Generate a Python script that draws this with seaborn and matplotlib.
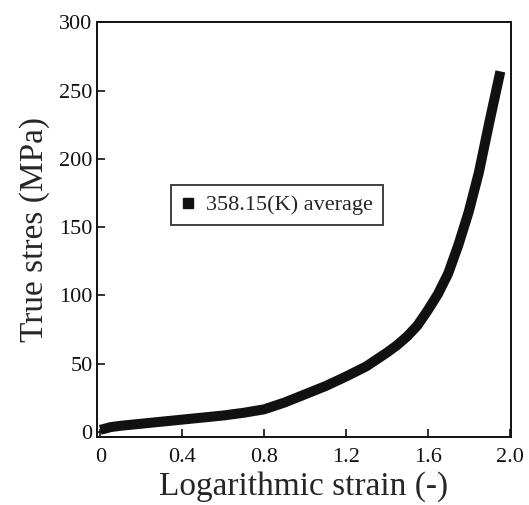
import pandas as pd
import numpy as np
import matplotlib
matplotlib.use("Agg")
import matplotlib.pyplot as plt
from matplotlib.lines import Line2D
import seaborn as sns

# %%
# values
strain = [0.0, 0.05, 0.1, 0.2, 0.3, 0.4, 0.5, 0.6, 0.7, 0.8, 0.9, 1.0, 1.1,
          1.2, 1.3, 1.4, 1.45, 1.5, 1.55, 1.6, 1.65, 1.7, 1.75, 1.8, 1.85, 1.9, 1.955]
stress = [1.5, 3.5, 4.5, 6.0, 7.5, 9.0, 10.5, 12.0, 14.0, 16.5, 21.5, 27.5, 33.5,
          40.5, 48.0, 58.0, 63.5, 70.0, 78.0, 89.0, 101.0, 116.0, 137.0, 161.0, 190.0, 226.0, 264.0]
series_label = "358.15(K) average"
x_ticks = [0, 0.4, 0.8, 1.2, 1.6, 2.0]
x_tick_labels = ["0", "0.4", "0.8", "1.2", "1.6", "2.0"]
y_ticks = [0, 50, 100, 150, 200, 250, 300]

df = pd.DataFrame({"strain": strain, "stress": stress})

# %%
sns.set_style("ticks")
plt.rcParams["font.family"] = ["Liberation Serif", "DejaVu Serif"]

fig = plt.figure(figsize = (5.29, 5.05), dpi = 100)
ax = fig.add_axes([0.183, 0.135, 0.783, 0.821])

sns.lineplot(data = df, x = "strain", y = "stress", ax = ax, color = "#111111",
             linewidth = 7.2, solid_capstyle = "butt", solid_joinstyle = "round")

ax.set_xlim(-0.017, 2.007)
ax.set_ylim(-3.6, 300)
ax.set_xticks(x_ticks)
ax.set_xticklabels(x_tick_labels)
ax.set_yticks(y_ticks)
ax.tick_params(direction = "in", length = 6, width = 1.2, labelsize = 16,
               colors = "#111111")
ax.tick_params(axis = "x", pad = 8)
ax.tick_params(axis = "y", pad = 3)
for s in ax.spines.values():
    s.set_visible(True)
    s.set_linewidth(1.4)
    s.set_color("#111111")

ax.set_xlabel("Logarithmic strain (-)", fontsize = 24, labelpad = 3)
ax.set_ylabel("True stres (MPa)", fontsize = 24, labelpad = 7)

handle = Line2D([], [], linestyle = "none", marker = "s", markersize = 7,
                color = "#111111")
leg = ax.legend([handle], [series_label], loc = "upper left",
                bbox_to_anchor = (0.18, 0.608), borderaxespad = 0,
                fontsize = 16, frameon = True, fancybox = False,
                handlelength = 0.6, handletextpad = 0.5, borderpad = 0.45)
leg.get_frame().set_edgecolor("#111111")
leg.get_frame().set_linewidth(1.4)

fig.savefig("out.png", dpi = 100)
